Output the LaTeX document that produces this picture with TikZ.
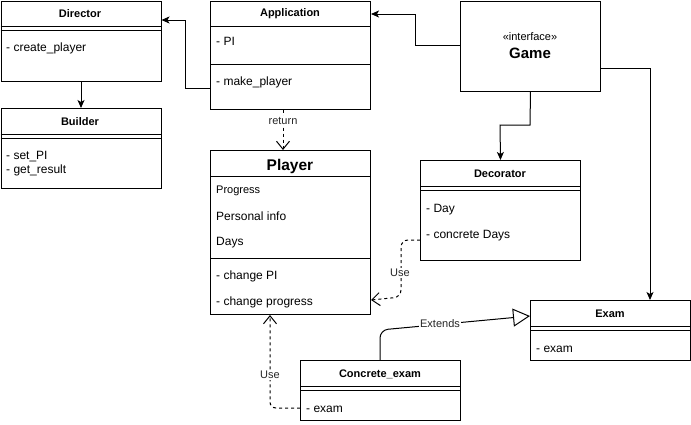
\documentclass[tikz,border=0pt]{standalone}
\usepackage{fontspec}
\setmainfont{Liberation Sans}
\usetikzlibrary{arrows.meta}
\tikzset{
  cls/.style={draw, line width=1pt, anchor=north west, inner sep=0pt, minimum width=160pt},
  ttl/.style={font=\bfseries\fontsize{11}{13}\selectfont, inner sep=0pt, yshift=-1pt},
  big/.style={font=\bfseries\fontsize{15}{18}\selectfont, inner sep=0pt, yshift=-1pt},
  itm/.style={font=\fontsize{12}{14}\selectfont, anchor=west, inner sep=0pt, yshift=-1.5pt},
  sml/.style={font=\fontsize{11}{13}\selectfont, anchor=west, inner sep=0pt, yshift=-1.5pt},
  sep/.style={line width=1pt},
  arr/.style={line width=1pt, -{Stealth[length=8pt,width=7pt,inset=2pt]}},
  dep/.style={line width=1pt, dash pattern=on 3pt off 3pt, -{Straight Barb[length=8pt,width=13pt]}},
  ext/.style={line width=1pt, -{Triangle[open,length=17pt,width=18pt]}},
  lbl/.style={font=\fontsize{11}{13}\selectfont, fill=white, inner sep=1pt, text=black!85}
}
\begin{document}
\begin{tikzpicture}[x=1pt,y=-1pt]
\useasboundingbox (0,0) rectangle (691,424);
% Director
\node[cls, minimum height=80pt] (dir) at (0.5,0.5) {};
\node[ttl] (dirt) at (80,13) {Director};
\draw[sep] (0.5,26) -- (160.5,26);
\draw[sep] (0.5,30) -- (160.5,30);
\node[itm] (dirm) at (6,47) {- create\_player};
% Builder
\node[cls, minimum height=80pt] (bld) at (0.5,108) {};
\node[ttl] (bldt) at (80,121) {Builder};
\draw[sep] (0.5,134) -- (160.5,134);
\draw[sep] (0.5,138) -- (160.5,138);
\node[itm] (bldm1) at (6,155) {- set\_PI};
\node[itm] (bldm2) at (6,169) {- get\_result};
% Application
\node[cls, minimum height=108pt] (app) at (210,0.5) {};
\node[ttl] (appt) at (290,13) {Application};
\draw[sep] (210,26) -- (370,26);
\node[itm] (appa) at (216,40) {- PI};
\draw[sep] (210,64) -- (370,64);
\node[itm] (appm) at (216,81) {- make\_player};
% Game
\node[cls, minimum width=140pt, minimum height=90pt] (game) at (460,0.5) {};
\node[font=\fontsize{11}{13}\selectfont, inner sep=0pt, yshift=-1pt] (gamei) at (530,36) {«interface»};
\node[big] (gamet) at (530,52) {Game};
% Player
\node[cls, minimum height=164pt] (pl) at (210,150) {};
\node[font=\bfseries\fontsize{15.5}{18}\selectfont, inner sep=0pt, yshift=-1pt] (plt) at (290,165) {Player};
\draw[sep] (210,176) -- (370,176);
\node[sml] (pla1) at (216,189) {Progress};
\node[itm] (pla2) at (216,215) {Personal info};
\node[itm] (pla3) at (216,241) {Days};
\draw[sep] (210,258) -- (370,258);
\node[itm] (plm1) at (216,275) {- change PI};
\node[itm] (plm2) at (216,301) {- change progress};
% Decorator
\node[cls, minimum height=100pt] (dec) at (420,160) {};
\node[ttl] (dect) at (500,173) {Decorator};
\draw[sep] (420,186) -- (580,186);
\draw[sep] (420,190) -- (580,190);
\node[itm] (deca1) at (426,208) {- Day};
\node[itm] (deca2) at (426,234) {- concrete Days};
% Exam
\node[cls, minimum height=60pt] (exam) at (530,300) {};
\node[ttl] (examt) at (610,313) {Exam};
\draw[sep] (530,326) -- (690,326);
\draw[sep] (530,330) -- (690,330);
\node[itm] (exama) at (536,348) {- exam};
% Concrete_exam
\node[cls, minimum height=60pt] (ce) at (300,360) {};
\node[ttl] (cet) at (380,373) {Concrete\_exam};
\draw[sep] (300,386) -- (460,386);
\draw[sep] (300,390) -- (460,390);
\node[itm] (cea) at (306,408) {- exam};
% Connectors
\draw[arr] (dir.south) -- (bld.north);
\draw[arr] (app.west |- 0,88) -- (185,88) -- (185,20) -- (dir.east |- 0,20);
\draw[arr] (game.west |- 0,45) -- (415,45) -- (415,14) -- (app.east |- 0,14);
\draw[arr] (game.south) -- (530,125) -- (500,125) -- (dec.north);
\draw[arr] (game.east |- 0,68) -- (650,68) -- (exam.north -| 650,0);
\draw[dep] (app.south -| 283,0) -- (pl.north -| 283,0);
\node[lbl] (ret) at (283,121) {return};
\draw[dep, rounded corners=7pt] (dec.west |- 0,240) -- (401,240) -- (401,297) -- (pl.east |- 0,300);
\node[lbl] (use1) at (400,273) {Use};
\draw[dep, rounded corners=6pt] (ce.west |- 0,408) -- (270,408) -- (pl.south -| 270,0);
\node[lbl] (use2) at (270,375) {Use};
\draw[ext, rounded corners=8pt] (ce.north -| 380,0) -- (380,330) -- (exam.west |- 0,316);
\node[lbl] (extl) at (440,324) {Extends};
\end{tikzpicture}
\end{document}
